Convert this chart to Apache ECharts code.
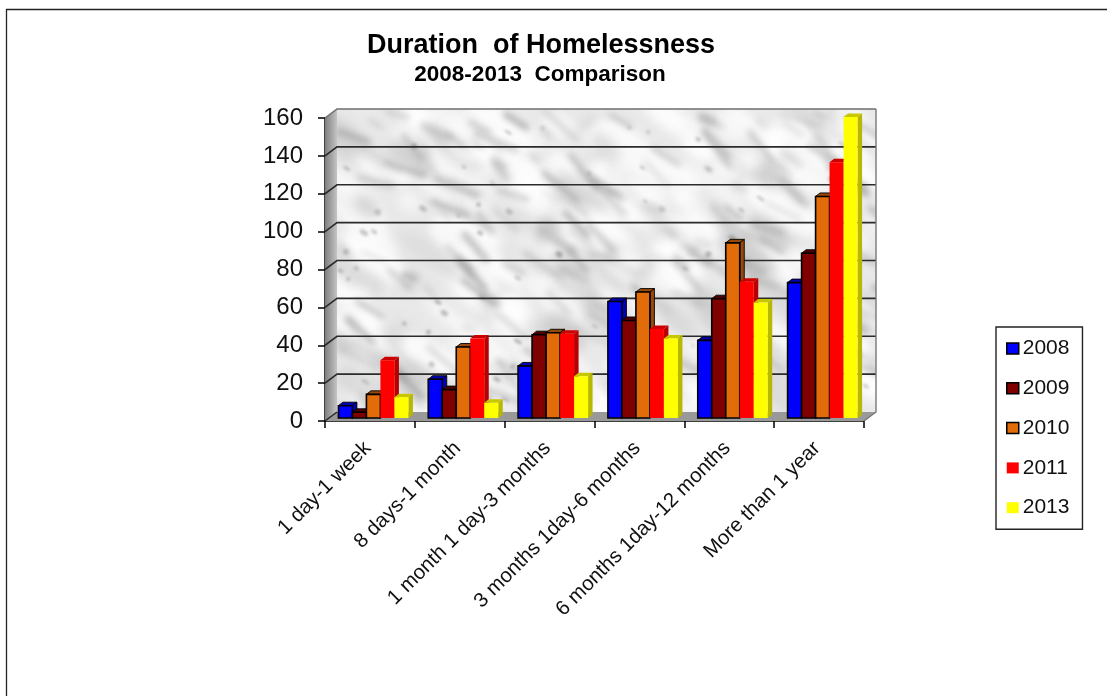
<!DOCTYPE html>
<html><head><meta charset="utf-8">
<style>html,body{margin:0;padding:0;background:#fff}#c{width:1107px;height:696px}</style>
<script src="https://cdn.jsdelivr.net/npm/echarts@6/dist/echarts.min.js"></script>
</head><body><div id="c"></div>
<script>
const categories = ['1 day-1 week','8 days-1 month','1 month 1 day-3 months','3 months 1day-6 months','6 months 1day-12 months','More than 1 year'];
const values2008 = [6.5,20.5,27.5,61.5,41,71.5];
const values2009 = [3,15,44,51.5,63,87];
const values2010 = [12.5,37.5,45,66.5,92.5,117];
const values2011 = [30.5,42,44.5,47,72,135];
const values2013 = [11,8,22,42,61,159];
const yTicks = [0,20,40,60,80,100,120,140,160];
const seriesDefs = [
 {name:'2008',data:values2008,color:'#0000ff',top:'#0000b4',side:'#0000b4',border:'#000'},
 {name:'2009',data:values2009,color:'#800000',top:'#4d0000',side:'#4d0000',border:'#000'},
 {name:'2010',data:values2010,color:'#e26b0a',top:'#96490a',side:'#96490a',border:'#000'},
 {name:'2011',data:values2011,color:'#ff0000',top:'#cc0000',side:'#b80000',border:null},
 {name:'2013',data:values2013,color:'#ffff00',top:'#c8c800',side:'#b8b800',border:null}
];
const BACK_X=12, BACK_Y=9, BAR_W=14, BAR_DX=3.5, BAR_DY=3, BAR_DEPTH_X=4.5, BAR_DEPTH_Y=3.5;

// decorative marble wall texture (deterministic, not data)
function marble(w,h){
  const cv=document.createElement('canvas');cv.width=w;cv.height=h;
  const c=cv.getContext('2d');
  let s=20240611;
  const r=()=>{s|=0;s=s+0x6D2B79F5|0;let t=Math.imul(s^s>>>15,1|s);t=t+Math.imul(t^t>>>7,61|t)^t;return((t^t>>>14)>>>0)/4294967296;};
  c.fillStyle='#e9e9ea';c.fillRect(0,0,w,h);
  c.filter='blur(6px)';
  for(let i=0;i<260;i++){
    const v=r()<0.7?246+r()*9:205+r()*18;
    c.fillStyle='rgb('+v+','+v+','+v+')';
    c.beginPath();c.ellipse(r()*w,r()*h,10+r()*30,4+r()*12,0.65,0,7);c.fill();
  }
  c.filter='blur(3px)';
  for(let i=0;i<170;i++){
    const g=135+r()*50,x=r()*w,y=r()*h,l=10+r()*34,a=0.6+(r()-.5)*0.7;
    c.strokeStyle='rgba('+g+','+g+','+g+','+(0.3+r()*0.4)+')';
    c.lineWidth=2+r()*5;c.lineCap='round';
    c.beginPath();c.moveTo(x,y);c.lineTo(x+Math.cos(a)*l,y+Math.sin(a)*l);c.stroke();
  }
  c.filter='blur(1.4px)';
  for(let i=0;i<60;i++){
    const g=120+r()*45;
    c.fillStyle='rgba('+g+','+g+','+g+',.55)';
    c.beginPath();c.ellipse(r()*w,r()*h,1.5+r()*3.5,1+r()*2,0.6,0,7);c.fill();
  }
  return cv;
}
const tex=marble(540,303);

function renderWalls(params,api){
  const cs=params.coordSys,L=cs.x,R=cs.x+cs.width;
  const y0=api.coord([0,0])[1],yT=api.coord([0,160])[1];
  const ch=[];
  ch.push({type:'image',style:{image:tex,x:L+BACK_X,y:yT-BACK_Y,width:R-L,height:y0-yT}});
  ch.push({type:'polygon',shape:{points:[[L,yT],[L+BACK_X,yT-BACK_Y],[L+BACK_X,y0-BACK_Y],[L,y0]]},
    style:{fill:new echarts.graphic.LinearGradient(0,0,1,0,[{offset:0,color:'#7f7f7f'},{offset:1,color:'#c4c4c4'}])}});
  ch.push({type:'polygon',shape:{points:[[L,y0],[L+BACK_X,y0-BACK_Y],[R+BACK_X,y0-BACK_Y],[R,y0]]},style:{fill:'#999999'}});
  yTicks.forEach(v=>{
    const y=api.coord([0,v])[1];
    if(v>0) ch.push({type:'polyline',shape:{points:[[L,y],[L+BACK_X,y-BACK_Y],[R+BACK_X,y-BACK_Y]]},
      style:{fill:null,stroke:v===160?'#6e6e6e':'#2b2b2b',lineWidth:v===160?1.5:1.6}});
  });
  ch.push({type:'polyline',shape:{points:[[L,y0],[L+BACK_X,y0-BACK_Y]]},style:{fill:null,stroke:'#222',lineWidth:1.4}});
  ch.push({type:'polyline',shape:{points:[[R,y0],[R+BACK_X,y0-BACK_Y],[R+BACK_X,yT-BACK_Y]]},style:{fill:null,stroke:'#777',lineWidth:1.4}});
  return {type:'group',silent:true,children:ch};
}
function renderBar(def,idx){
  return function(params,api){
    const i=api.value(0),v=api.value(1);
    const base=api.coord([i,0]),top=api.coord([i,v]);
    const x=base[0]-2.5*BAR_W+idx*BAR_W+BAR_DX, yb=base[1]-BAR_DY, yt=top[1]-BAR_DY, dx=BAR_DEPTH_X, dy=BAR_DEPTH_Y;
    const line=def.border?{stroke:def.border,lineWidth:1.6}:{stroke:null};
    const thin=def.border?{stroke:'#000',lineWidth:.9}:{};
    return {type:'group',children:[
      {type:'polygon',shape:{points:[[x,yt],[x+dx,yt-dy],[x+BAR_W+dx,yt-dy],[x+BAR_W,yt]]},style:Object.assign({fill:def.top},thin)},
      {type:'polygon',shape:{points:[[x+BAR_W,yt],[x+BAR_W+dx,yt-dy],[x+BAR_W+dx,yb-dy],[x+BAR_W,yb]]},style:Object.assign({fill:def.side},thin)},
      {type:'rect',shape:{x:x,y:yt,width:BAR_W,height:yb-yt},style:Object.assign({fill:def.color},line)}
    ]};
  };
}
const series=[{type:'custom',name:'walls',data:[[0,0]],renderItem:renderWalls,clip:false,z:1,silent:true,encode:{x:0,y:1}}];
seriesDefs.forEach((d,idx)=>series.push({
  type:'custom',name:d.name,clip:false,z:2+idx,renderItem:renderBar(d,idx),
  itemStyle:{color:d.color},encode:{x:0,y:1},
  data:d.data.map((v,i)=>[i,v])
}));
const chart=echarts.init(document.getElementById('c'),null,{renderer:'canvas'});
const F='"Liberation Sans",Arial,sans-serif';
chart.setOption({
  animation:false,backgroundColor:'#fff',
  title:[
   {text:'Duration  of Homelessness',left:536,top:27.5,textAlign:'center',textStyle:{fontFamily:F,fontWeight:'bold',fontSize:27,color:'#000'}},
   {text:'2008-2013  Comparison',left:535,top:58,textAlign:'center',textStyle:{fontFamily:F,fontWeight:'bold',fontSize:22.5,color:'#000'}}
  ],
  grid:{left:325,top:118,width:539,height:303,containLabel:false},
  xAxis:{type:'category',data:categories,boundaryGap:true,
    axisLine:{lineStyle:{color:'#000',width:1.5}},
    axisTick:{show:true,alignWithLabel:false,length:7,lineStyle:{color:'#000',width:1.5}},
    axisLabel:{interval:0,rotate:45,fontFamily:F,fontSize:20.5,color:'#111',margin:22,padding:[0,3,0,0]}},
  yAxis:{type:'value',min:0,max:160,interval:20,
    axisLine:{show:true,lineStyle:{color:'#000',width:1.5}},
    axisTick:{show:true,length:7,lineStyle:{color:'#000',width:1.5}},
    splitLine:{show:false},
    axisLabel:{fontFamily:F,fontSize:24,color:'#111',margin:22}},
  legend:{orient:'vertical',left:996,top:327,padding:[11,13,11,10],
    borderColor:'#222',borderWidth:1.4,backgroundColor:'#fff',
    itemWidth:12,itemHeight:11,itemGap:18.8,selectedMode:false,
    textStyle:{fontFamily:F,fontSize:21,color:'#111',padding:[0,0,0,-1]},
    data:seriesDefs.map(d=>({name:d.name,icon:'rect',
      itemStyle:d.border?{color:d.color,borderColor:'#000',borderWidth:1.5}:{color:d.color,borderWidth:0}}))},
  series:series,
  graphic:[{type:'polyline',silent:true,z:100,shape:{points:[[6.5,696],[6.5,9.5],[1107,9.5]]},style:{fill:null,stroke:'#222',lineWidth:1.3}}]
});
</script></body></html>
